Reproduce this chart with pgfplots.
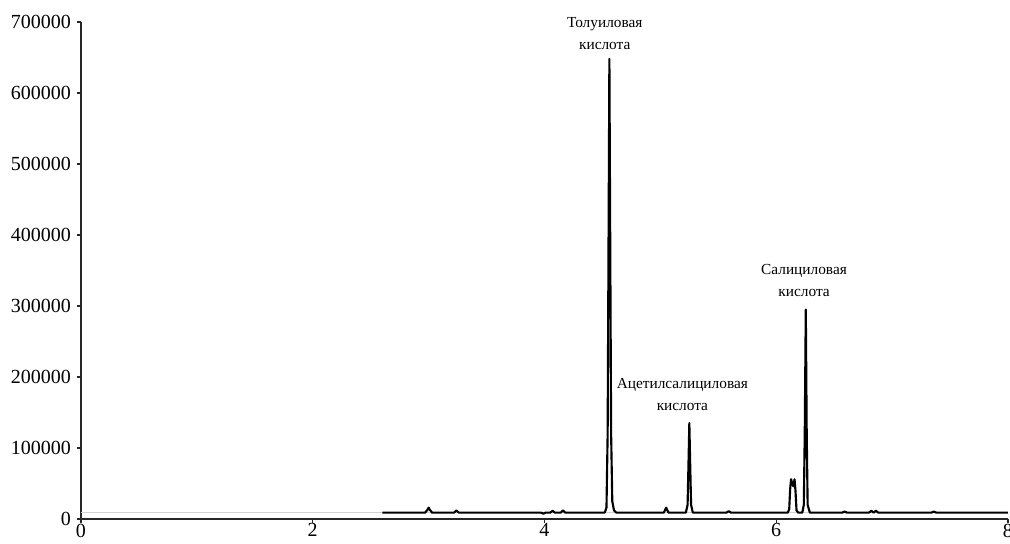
\documentclass[border=0pt]{standalone}
\usepackage{fontspec}
\setmainfont{Liberation Serif}
\usepackage{pgfplots}
\pgfplotsset{compat=1.18}
\begin{document}
\begin{tikzpicture}
\path[use as bounding box] (-60.75pt,-18pt) rectangle (696.75pt,389.25pt);
\begin{axis}[
  scale only axis,
  width=695.25pt, height=372.75pt,
  xmin=0, xmax=8, ymin=0, ymax=700000,
  axis x line=bottom, axis y line=left,
  axis line style={-, line width=1.6pt, black!85},
  xtick={0,2,4,6,8},
  ytick={0,100000,200000,300000,400000,500000,600000,700000},
  scaled y ticks=false,
  yticklabel style={/pgf/number format/fixed, /pgf/number format/1000 sep={}},
  /pgf/number format/assume math mode=true,
  tick align=outside,
  major tick length=3pt,
  tick style={line width=1pt, black!85},
  ticklabel style={font=\fontsize{15}{18}\selectfont},
  xticklabel style={yshift=3pt},
  yticklabel style={xshift=-1pt},
  clip=false,
]
\addplot[gray!35, line width=1pt] coordinates {(0,9500) (8,9500)};
\addplot[black, line width=1.6pt, line join=round] coordinates {
(2.60,9000) (2.97,9000) (2.99,13000) (3.00,16000) (3.01,13000) (3.03,9000)
(3.22,9000) (3.24,12000) (3.26,9000)
(3.97,9000) (3.99,7500) (4.01,9000)
(4.05,9000) (4.07,11500) (4.09,9000)
(4.14,9000) (4.16,12000) (4.18,9000)
(4.52,9000) (4.535,16000) (4.545,120000) (4.553,400000) (4.56,648000) (4.567,400000) (4.575,120000) (4.585,25000) (4.60,12000) (4.62,9000)
(5.03,9000) (5.05,16000) (5.07,9000)
(5.22,9000) (5.235,20000) (5.243,80000) (5.25,135000) (5.257,80000) (5.265,20000) (5.28,9000)
(5.57,9000) (5.59,11000) (5.61,9000)
(6.10,9000) (6.112,14000) (6.12,42000) (6.128,56000) (6.138,50000) (6.148,46000) (6.158,56000) (6.166,40000) (6.175,12000) (6.19,9000)
(6.225,9000) (6.238,20000) (6.246,120000) (6.255,295000) (6.263,120000) (6.271,20000) (6.29,9000)
(6.57,9000) (6.59,10500) (6.61,9000)
(6.80,9000) (6.82,11500) (6.84,9000) (6.86,11500) (6.88,9000)
(7.34,9000) (7.36,10500) (7.38,9000)
(8.00,9000)
};
\node[align=center, font=\fontsize{11.5}{16.5}\selectfont] at (axis cs:4.52,684000) {Толуиловая\\кислота};
\node[align=center, font=\fontsize{11.5}{16.5}\selectfont] at (axis cs:5.19,176000) {Ацетилсалициловая\\кислота};
\node[align=center, font=\fontsize{11.5}{16.5}\selectfont] at (axis cs:6.24,336000) {Салициловая\\кислота};
\end{axis}
\end{tikzpicture}
\end{document}
